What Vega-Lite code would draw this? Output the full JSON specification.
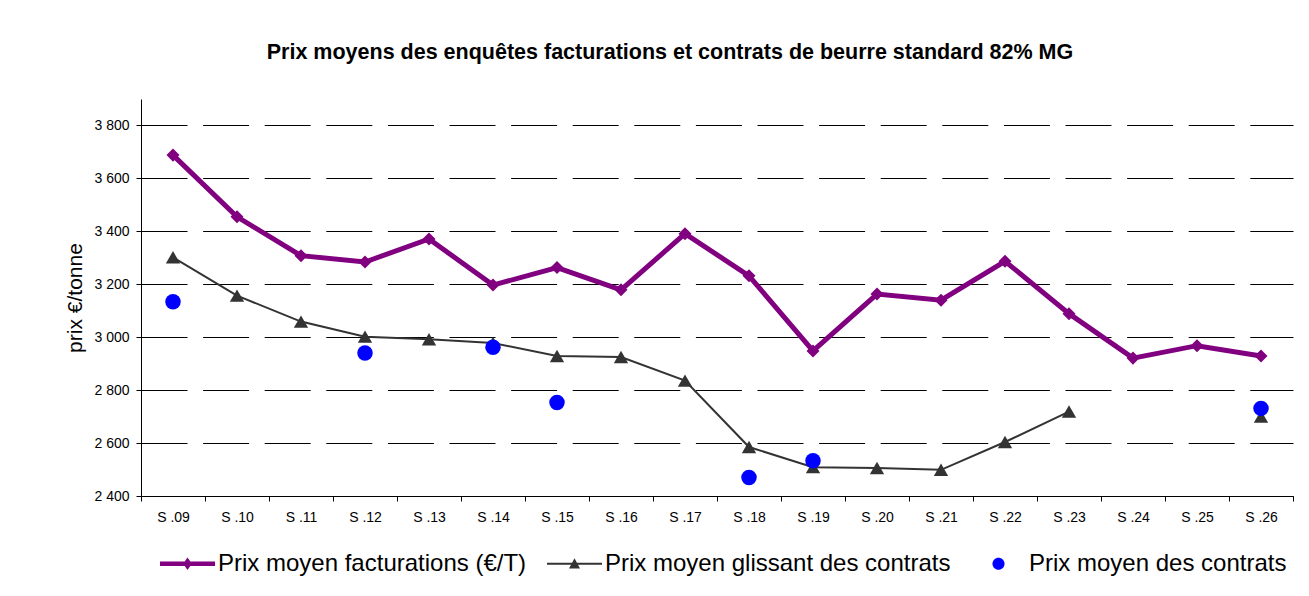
{
  "$schema": "https://vega.github.io/schema/vega-lite/v6.json",
  "width": 1152,
  "height": 397,
  "autosize": "none",
  "padding": {"left": 141, "top": 99, "right": 16, "bottom": 100},
  "background": "white",
  "config": {"view": {"stroke": null}, "font": "Liberation Sans"},
  "title": {
    "text": "Prix moyens des enquêtes facturations et contrats de beurre standard 82% MG",
    "font": "Liberation Sans",
    "fontSize": 21.5,
    "fontWeight": "bold",
    "color": "black",
    "anchor": "middle",
    "dx": -47,
    "offset": 19,
    "baseline": "alphabetic"
  },
  "data": {
    "values": [
      {"semaine": "S .09", "serie": "Prix moyen facturations (€/T)", "prix": 3688},
      {"semaine": "S .10", "serie": "Prix moyen facturations (€/T)", "prix": 3455},
      {"semaine": "S .11", "serie": "Prix moyen facturations (€/T)", "prix": 3308},
      {"semaine": "S .12", "serie": "Prix moyen facturations (€/T)", "prix": 3284},
      {"semaine": "S .13", "serie": "Prix moyen facturations (€/T)", "prix": 3371},
      {"semaine": "S .14", "serie": "Prix moyen facturations (€/T)", "prix": 3197},
      {"semaine": "S .15", "serie": "Prix moyen facturations (€/T)", "prix": 3263},
      {"semaine": "S .16", "serie": "Prix moyen facturations (€/T)", "prix": 3179},
      {"semaine": "S .17", "serie": "Prix moyen facturations (€/T)", "prix": 3391},
      {"semaine": "S .18", "serie": "Prix moyen facturations (€/T)", "prix": 3232},
      {"semaine": "S .19", "serie": "Prix moyen facturations (€/T)", "prix": 2948},
      {"semaine": "S .20", "serie": "Prix moyen facturations (€/T)", "prix": 3163},
      {"semaine": "S .21", "serie": "Prix moyen facturations (€/T)", "prix": 3140},
      {"semaine": "S .22", "serie": "Prix moyen facturations (€/T)", "prix": 3287},
      {"semaine": "S .23", "serie": "Prix moyen facturations (€/T)", "prix": 3089},
      {"semaine": "S .24", "serie": "Prix moyen facturations (€/T)", "prix": 2921},
      {"semaine": "S .25", "serie": "Prix moyen facturations (€/T)", "prix": 2968},
      {"semaine": "S .26", "serie": "Prix moyen facturations (€/T)", "prix": 2929},
      {"semaine": "S .09", "serie": "Prix moyen glissant des contrats", "prix": 3302},
      {"semaine": "S .10", "serie": "Prix moyen glissant des contrats", "prix": 3157},
      {"semaine": "S .11", "serie": "Prix moyen glissant des contrats", "prix": 3059},
      {"semaine": "S .12", "serie": "Prix moyen glissant des contrats", "prix": 3002},
      {"semaine": "S .13", "serie": "Prix moyen glissant des contrats", "prix": 2992},
      {"semaine": "S .14", "serie": "Prix moyen glissant des contrats", "prix": 2978},
      {"semaine": "S .15", "serie": "Prix moyen glissant des contrats", "prix": 2929},
      {"semaine": "S .16", "serie": "Prix moyen glissant des contrats", "prix": 2925},
      {"semaine": "S .17", "serie": "Prix moyen glissant des contrats", "prix": 2836},
      {"semaine": "S .18", "serie": "Prix moyen glissant des contrats", "prix": 2585},
      {"semaine": "S .19", "serie": "Prix moyen glissant des contrats", "prix": 2509},
      {"semaine": "S .20", "serie": "Prix moyen glissant des contrats", "prix": 2506},
      {"semaine": "S .21", "serie": "Prix moyen glissant des contrats", "prix": 2499},
      {"semaine": "S .22", "serie": "Prix moyen glissant des contrats", "prix": 2604},
      {"semaine": "S .23", "serie": "Prix moyen glissant des contrats", "prix": 2719},
      {"semaine": "S .24", "serie": "Prix moyen glissant des contrats", "prix": null},
      {"semaine": "S .25", "serie": "Prix moyen glissant des contrats", "prix": null},
      {"semaine": "S .26", "serie": "Prix moyen glissant des contrats", "prix": 2700},
      {"semaine": "S .09", "serie": "Prix moyen des contrats", "prix": 3134},
      {"semaine": "S .12", "serie": "Prix moyen des contrats", "prix": 2940},
      {"semaine": "S .14", "serie": "Prix moyen des contrats", "prix": 2962},
      {"semaine": "S .15", "serie": "Prix moyen des contrats", "prix": 2753},
      {"semaine": "S .18", "serie": "Prix moyen des contrats", "prix": 2470},
      {"semaine": "S .19", "serie": "Prix moyen des contrats", "prix": 2533},
      {"semaine": "S .26", "serie": "Prix moyen des contrats", "prix": 2731}
    ]
  },
  "encoding": {
    "x": {
      "field": "semaine",
      "type": "ordinal",
      "scale": {
        "type": "band",
        "domain": ["S .09", "S .10", "S .11", "S .12", "S .13", "S .14", "S .15", "S .16", "S .17", "S .18", "S .19", "S .20", "S .21", "S .22", "S .23", "S .24", "S .25", "S .26"],
        "paddingInner": 0,
        "paddingOuter": 0
      },
      "axis": {
        "title": null,
        "grid": false,
        "tickBand": "extent",
        "tickSize": 5,
        "tickColor": "black",
        "domainColor": "black",
        "labelAngle": 0,
        "labelFont": "Liberation Sans",
        "labelFontSize": 14,
        "labelColor": "black",
        "labelPadding": 9
      }
    },
    "y": {
      "field": "prix",
      "type": "quantitative",
      "scale": {"domain": [2400, 3900], "nice": false, "zero": false},
      "axis": {
        "title": "prix €/tonne",
        "titleFont": "Liberation Sans",
        "titleFontSize": 21,
        "titleFontWeight": "normal",
        "titleColor": "black",
        "titlePadding": 8,
        "values": [2400, 2600, 2800, 3000, 3200, 3400, 3600, 3800],
        "labelExpr": "replace(format(datum.value, ','), ',', ' ')",
        "labelFont": "Liberation Sans",
        "labelFontSize": 14,
        "labelColor": "black",
        "labelPadding": 7,
        "tickSize": 5,
        "tickColor": "black",
        "domainColor": "black",
        "grid": true,
        "gridColor": "black",
        "gridDash": [46, 15.6],
        "gridWidth": 1
      }
    }
  },
  "resolve": {"scale": {"color": "independent", "shape": "independent"}},
  "layer": [
    {
      "transform": [{"filter": "datum.serie === 'Prix moyen facturations (€/T)'"}],
      "mark": {"type": "line", "color": "#800080", "strokeWidth": 5}
    },
    {
      "transform": [{"filter": "datum.serie === 'Prix moyen glissant des contrats'"}],
      "mark": {"type": "line", "color": "#333333", "strokeWidth": 2, "invalid": "break-paths-show-domains"}
    },
    {
      "mark": {"type": "point", "filled": true, "opacity": 1},
      "encoding": {
        "color": {
          "field": "serie",
          "type": "nominal",
          "scale": {
            "domain": ["Prix moyen facturations (€/T)", "Prix moyen glissant des contrats", "Prix moyen des contrats"],
            "range": ["#800080", "#333333", "#0000ff"]
          },
          "legend": null
        },
        "shape": {
          "field": "serie",
          "type": "nominal",
          "scale": {
            "domain": ["Prix moyen facturations (€/T)", "Prix moyen glissant des contrats", "Prix moyen des contrats"],
            "range": ["diamond", "triangle-up", "circle"]
          },
          "legend": null
        },
        "size": {
          "field": "serie",
          "type": "nominal",
          "scale": {
            "domain": ["Prix moyen facturations (€/T)", "Prix moyen glissant des contrats", "Prix moyen des contrats"],
            "range": [170, 240, 180]
          },
          "legend": null
        }
      }
    },
    {
      "mark": {"type": "point", "filled": true, "opacity": 0},
      "encoding": {
        "color": {
          "field": "serie",
          "type": "nominal",
          "scale": {
            "domain": ["Prix moyen facturations (€/T)", "Prix moyen glissant des contrats", "Prix moyen des contrats"],
            "range": ["#800080", "#333333", "#0000ff"]
          },
          "legend": {
            "title": null,
            "orient": "none",
            "direction": "horizontal",
            "legendX": 19,
            "legendY": 437,
            "labelFont": "Liberation Sans",
            "labelFontSize": 24,
            "labelColor": "black",
            "labelLimit": 0,
            "labelOffset": 3,
            "columnPadding": 20,
            "symbolSize": 3025,
            "symbolOpacity": 1,
            "symbolStrokeWidth": 0
          }
        },
        "shape": {
          "field": "serie",
          "type": "nominal",
          "scale": {
            "domain": ["Prix moyen facturations (€/T)", "Prix moyen glissant des contrats", "Prix moyen des contrats"],
            "range": [
              "M-1,-0.08H1V0.08H-1ZM0,-0.23L0.16,0L0,0.23L-0.16,0Z",
              "M-1,-0.035H1V0.035H-1ZM0,-0.2L0.2,0.17L-0.2,0.17Z",
              "M0.22,0A0.22,0.22,0,1,1,-0.22,0A0.22,0.22,0,1,1,0.22,0Z"
            ]
          },
          "legend": {
            "title": null,
            "orient": "none",
            "direction": "horizontal",
            "legendX": 19,
            "legendY": 437,
            "labelFont": "Liberation Sans",
            "labelFontSize": 24,
            "labelColor": "black",
            "labelLimit": 0,
            "labelOffset": 3,
            "columnPadding": 20,
            "symbolSize": 3025,
            "symbolOpacity": 1,
            "symbolStrokeWidth": 0
          }
        }
      }
    }
  ]
}
